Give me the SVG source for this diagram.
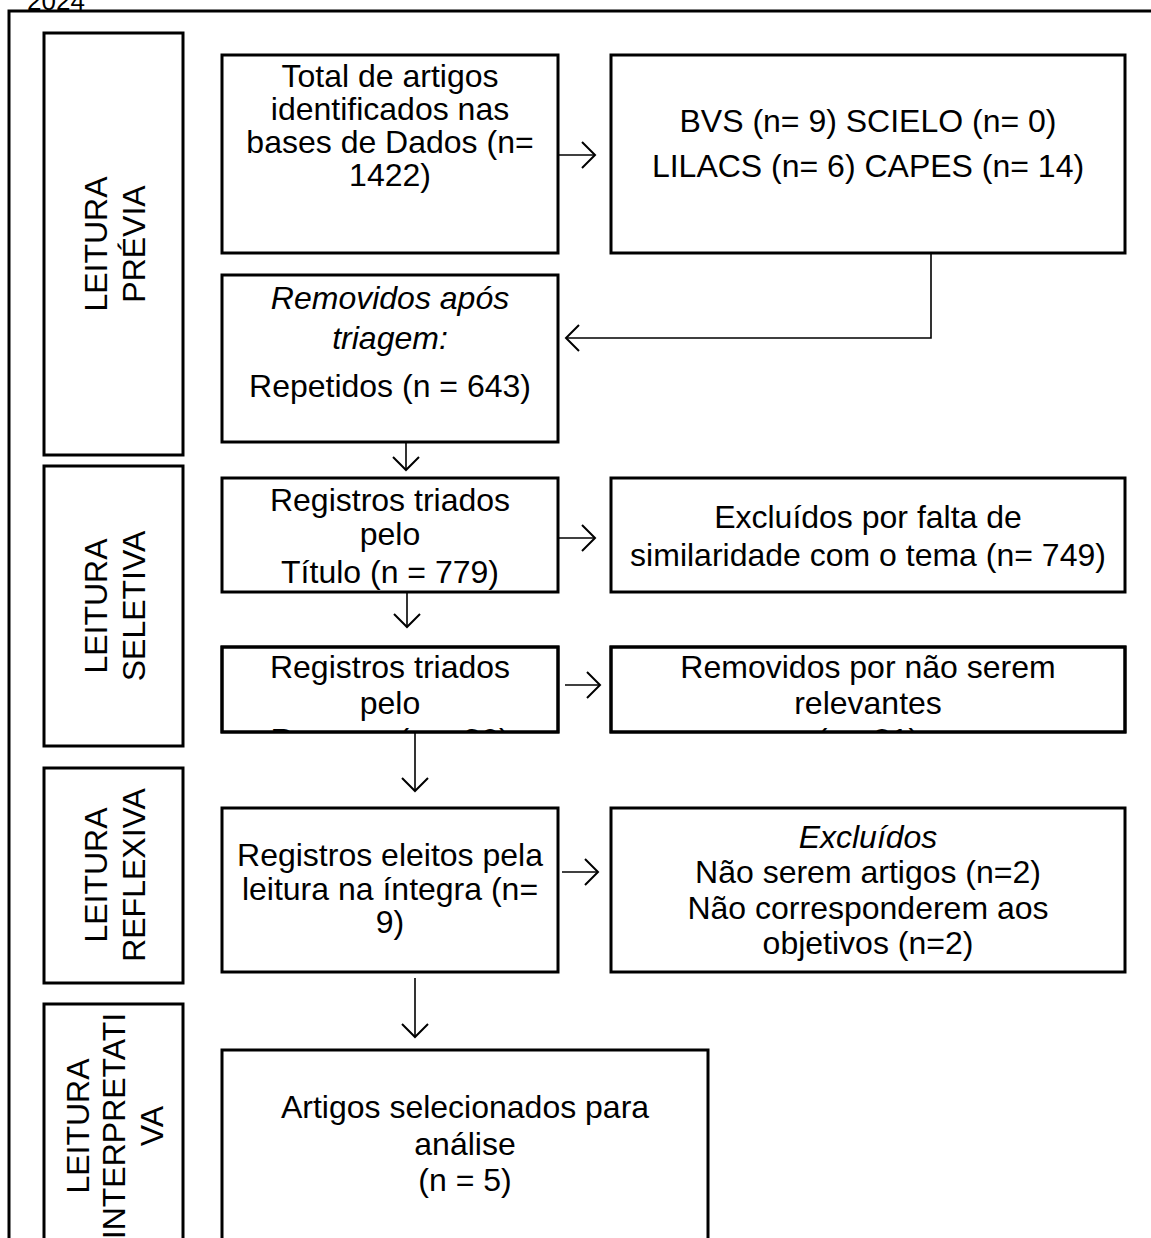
<svg xmlns="http://www.w3.org/2000/svg" width="1151" height="1238" viewBox="0 0 1151 1238">
<defs>
<style>
.box{fill:#fff;stroke:#000;stroke-width:3}
.t{font-family:"Liberation Sans",Arial,sans-serif;font-size:32px;fill:#000;text-anchor:middle}
.i{font-style:italic}
.c{fill:none;stroke:#000;stroke-width:1.6}
</style>
<marker id="ah" viewBox="0 0 16 30" refX="14" refY="15" markerWidth="16" markerHeight="30" markerUnits="userSpaceOnUse" orient="auto">
<path d="M1,2 L14,15 L1,28" fill="none" stroke="#000" stroke-width="2"/>
</marker>
<clipPath id="clipResumo"><rect x="222" y="647" width="336" height="85"/></clipPath>
<clipPath id="clipRelev"><rect x="611" y="647" width="514" height="85"/></clipPath>
</defs>
<rect width="1151" height="1238" fill="#fff"/>
<text x="27" y="10" font-family="Liberation Sans,Arial,sans-serif" font-size="26">2024</text>
<rect id="frame" class="box" x="9" y="11" width="1200" height="1300"/>

<g id="phase-previa">
<rect class="box" x="44" y="33" width="139" height="422"/>
<text class="t" transform="translate(107,244) rotate(-90)">LEITURA</text>
<text class="t" transform="translate(145,244) rotate(-90)">PRÉVIA</text>
</g>
<g id="phase-seletiva">
<rect class="box" x="44" y="466" width="139" height="280"/>
<text class="t" transform="translate(107,606) rotate(-90)">LEITURA</text>
<text class="t" transform="translate(145,606) rotate(-90)">SELETIVA</text>
</g>
<g id="phase-reflexiva">
<rect class="box" x="44" y="768" width="139" height="215"/>
<text class="t" transform="translate(107,875) rotate(-90)">LEITURA</text>
<text class="t" transform="translate(145,875) rotate(-90)">REFLEXIVA</text>
</g>
<g id="phase-interpretativa">
<rect class="box" x="44" y="1004" width="139" height="260"/>
<text class="t" transform="translate(89,1126) rotate(-90)">LEITURA</text>
<text class="t" transform="translate(125,1126) rotate(-90)">INTERPRETATI</text>
<text class="t" transform="translate(163,1126) rotate(-90)">VA</text>
</g>

<g id="n-total">
<rect class="box" x="222" y="55" width="336" height="198"/>
<text class="t" x="390" y="87">Total de artigos</text>
<text class="t" x="390" y="120">identificados nas</text>
<text class="t" x="390" y="153">bases de Dados (n=</text>
<text class="t" x="390" y="186">1422)</text>
</g>
<g id="n-bases">
<rect class="box" x="611" y="55" width="514" height="198"/>
<text class="t" x="868" y="132">BVS (n= 9) SCIELO (n= 0)</text>
<text class="t" x="868" y="177">LILACS (n= 6) CAPES (n= 14)</text>
</g>
<g id="n-removidos">
<rect class="box" x="222" y="275" width="336" height="167"/>
<text class="t i" x="390" y="309">Removidos após</text>
<text class="t i" x="390" y="349">triagem:</text>
<text class="t" x="390" y="397">Repetidos (n = 643)</text>
</g>
<g id="n-titulo">
<rect class="box" x="222" y="478" width="336" height="114"/>
<text class="t" x="390" y="511">Registros triados</text>
<text class="t" x="390" y="545">pelo</text>
<text class="t" x="390" y="583">Título (n = 779)</text>
</g>
<g id="n-falta">
<rect class="box" x="611" y="478" width="514" height="114"/>
<text class="t" x="868" y="528">Excluídos por falta de</text>
<text class="t" x="868" y="566">similaridade com o tema (n= 749)</text>
</g>
<g id="n-resumo">
<rect class="box" x="222" y="647" width="336" height="85"/>
<g clip-path="url(#clipResumo)">
<text class="t" x="390" y="678">Registros triados</text>
<text class="t" x="390" y="714">pelo</text>
<text class="t" x="390" y="751">Resumo (n = 30)</text>
</g>
<rect x="222" y="647" width="336" height="85" fill="none" stroke="#000" stroke-width="3"/>
</g>
<g id="n-relevantes">
<rect class="box" x="611" y="647" width="514" height="85"/>
<g clip-path="url(#clipRelev)">
<text class="t" x="868" y="678">Removidos por não serem</text>
<text class="t" x="868" y="714">relevantes</text>
<text class="t" x="868" y="751">(n= 21)</text>
</g>
<rect x="611" y="647" width="514" height="85" fill="none" stroke="#000" stroke-width="3"/>
</g>
<g id="n-eleitos">
<rect class="box" x="222" y="808" width="336" height="164"/>
<text class="t" x="390" y="866">Registros eleitos pela</text>
<text class="t" x="390" y="900">leitura na íntegra (n=</text>
<text class="t" x="390" y="933">9)</text>
</g>
<g id="n-excluidos">
<rect class="box" x="611" y="808" width="514" height="164"/>
<text class="t i" x="868" y="848">Excluídos</text>
<text class="t" x="868" y="883">Não serem artigos (n=2)</text>
<text class="t" x="868" y="919">Não corresponderem aos</text>
<text class="t" x="868" y="954">objetivos (n=2)</text>
</g>
<g id="n-final">
<rect class="box" x="222" y="1050" width="486" height="220"/>
<text class="t" x="465" y="1118">Artigos selecionados para</text>
<text class="t" x="465" y="1155">análise</text>
<text class="t" x="465" y="1191">(n = 5)</text>
</g>

<g id="connectors">
<path class="c" d="M559,155 H595" marker-end="url(#ah)"/>
<path class="c" d="M931,253 V338 H566" marker-end="url(#ah)"/>
<path class="c" d="M406,442 V470" marker-end="url(#ah)"/>
<path class="c" d="M559,538 H595" marker-end="url(#ah)"/>
<path class="c" d="M407,592 V627" marker-end="url(#ah)"/>
<path class="c" d="M565,685 H600" marker-end="url(#ah)"/>
<path class="c" d="M415,732 V791" marker-end="url(#ah)"/>
<path class="c" d="M562,872 H598" marker-end="url(#ah)"/>
<path class="c" d="M415,978 V1037" marker-end="url(#ah)"/>
</g>
</svg>
